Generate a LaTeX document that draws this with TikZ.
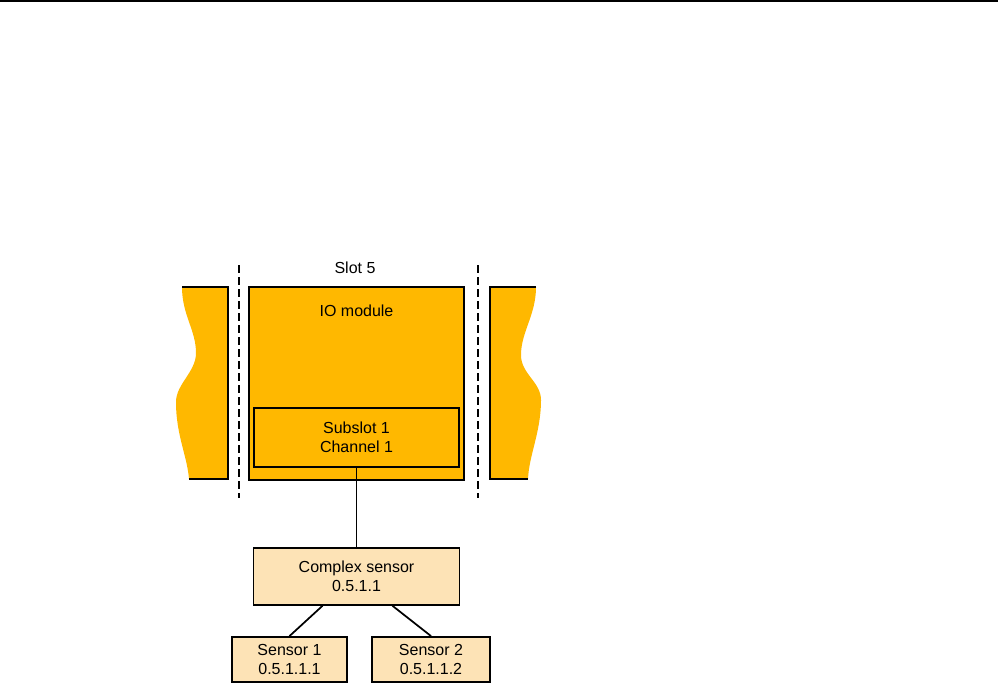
\documentclass[tikz,border=0pt]{standalone}
\usepackage{fontspec}
\setmainfont{Liberation Sans}
\usepackage{tikz}
\usetikzlibrary{positioning,calc}

\definecolor{moduleorange}{HTML}{FFB800}
\definecolor{sensorpeach}{HTML}{FDE3B6}

\tikzset{
    modulebox/.style={draw, line width=1.4pt, fill=moduleorange, rectangle, inner sep=0pt},
    sensorbox/.style={draw, line width=1.4pt, fill=sensorpeach, rectangle, align=center, inner sep=0pt},
    slotline/.style={line width=1.1pt, dash pattern=on 6pt off 3pt},
    link/.style={line width=1.3pt}
}

\begin{document}
\begin{tikzpicture}[x=0.75pt, y=-0.75pt, font=\fontsize{12}{14.3}\selectfont]

    \useasboundingbox (0,0) rectangle (998,685);

    % Header rule
    \draw[line width=1.3pt] (0,0.8) -- (998,0.8);

    % Slot boundaries
    \draw[slotline] (239,265) -- (239,498);
    \draw[slotline] (478,265) -- (478,498);
    \node (slotlabel) at (355,268) {Slot 5};

    % Neighbouring modules (cut off)
    \fill[moduleorange] (182,287) -- (228,287) -- (228,479) -- (189,479)
        .. controls (187,455) and (176,435) .. (176,402)
        .. controls (176,384) and (196,372) .. (196,353)
        .. controls (196,330) and (182,315) .. (182,287) -- cycle;
    \draw[line width=1.4pt] (182,287) -- (228,287) -- (228,479) -- (189,479);

    \fill[moduleorange] (536,287) -- (490,287) -- (490,479) -- (528,479)
        .. controls (529,455) and (541,432) .. (541,400)
        .. controls (541,382) and (521,374) .. (521,355)
        .. controls (521,332) and (536,315) .. (536,287) -- cycle;
    \draw[line width=1.4pt] (536,287) -- (490,287) -- (490,479) -- (528,479);

    % IO module
    \node[modulebox, minimum width=161.25pt, minimum height=144.75pt] (iomodule) at (356.5,383.5) {};
    \node (iolabel) at ([yshift=-18.75pt]iomodule.north) {IO module};

    \node[modulebox, minimum width=153.75pt, minimum height=44.25pt, align=center] (subslot) at (356.5,437.5) {
        Subslot 1 \\ Channel 1
    };

    % Sensors
    \node[sensorbox, minimum width=154.5pt, minimum height=42.75pt, below=59.25pt of subslot] (complex) {
        Complex sensor \\ 0.5.1.1
    };

    \node[sensorbox, minimum width=86.25pt, minimum height=33.75pt] (sensorA) at (289.5,659.5) {
        Sensor 1 \\ 0.5.1.1.1
    };

    \node[sensorbox, minimum width=88.5pt, minimum height=33.75pt] (sensorB) at (431,659.5) {
        Sensor 2 \\ 0.5.1.1.2
    };

    % Connections
    \draw[link] (subslot) -- (complex);
    \draw[link] ([xshift=-25.5pt]complex.south) -- (sensorA.north);
    \draw[link] ([xshift=27pt]complex.south) -- (sensorB.north);

\end{tikzpicture}
\end{document}
